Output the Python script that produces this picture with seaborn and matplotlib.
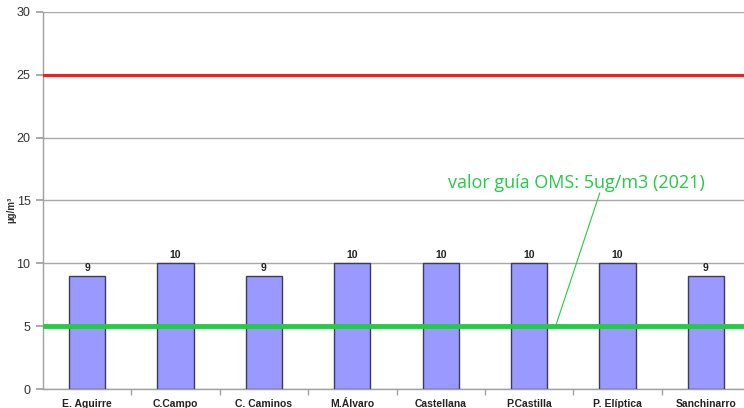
import matplotlib
matplotlib.use("Agg")
import matplotlib.pyplot as plt
import seaborn as sns
import pandas as pd

estaciones = ["E. Aguirre", "C.Campo", "C. Caminos", "M.Álvaro", "Castellana",
              "P.Castilla", "P. Elíptica", "Sanchinarro"]
valores = [9, 10, 9, 10, 10, 10, 10, 9]
limite_legal = 25
guia_oms = 5
texto_oms = "valor guía OMS: 5ug/m3 (2021)"

sns.set_theme(style="white")
plt.rcParams["font.family"] = ["Liberation Sans", "DejaVu Sans"]

df = pd.DataFrame({"estacion": estaciones, "valor": valores})

fig = plt.figure(figsize=(7.44, 4.08), dpi=100)
ax = fig.add_axes([43 / 744, 19 / 408, 707 / 744, 377 / 408])

sns.barplot(data=df, x="estacion", y="valor", ax=ax, color="#9999ff",
            saturation=1, width=0.41, edgecolor="#3c3c5a", linewidth=1.0, zorder=3)

ax.set_ylim(0, 30)
ax.set_xlim(-0.5, len(estaciones) - 0.5)
ax.set_yticks(range(0, 31, 5))
ax.yaxis.grid(True, color="#a8a8a8", linewidth=1.0, zorder=0)
ax.set_axisbelow(True)

for s in ["top", "right"]:
    ax.spines[s].set_visible(False)
for s in ["left", "bottom"]:
    ax.spines[s].set_color("#a0a0a0")
    ax.spines[s].set_linewidth(1.0)

ax.tick_params(axis="y", which="both", left=True, length=5, color="#a0a0a0",
               labelsize=9, labelcolor="#333333", pad=4)
ax.tick_params(axis="x", bottom=False, labelsize=7.5, pad=1.5)
for lab in ax.get_xticklabels():
    lab.set_fontweight("bold")
    lab.set_color("#222222")

# minor ticks between stations
ax.set_xticks([i + 0.5 for i in range(len(estaciones) - 1)], minor=True)
ax.tick_params(axis="x", which="minor", bottom=True, length=4, color="#a0a0a0")

ax.set_xlabel("")
ax.set_ylabel("µg/m³", fontsize=7, fontweight="bold", color="#333333")
ax.yaxis.set_label_coords(-0.038, 0.475)

for i, v in enumerate(valores):
    ax.text(i, v + 0.25, f"{v}", ha="center", va="bottom", fontsize=7.5,
            fontweight="bold", color="#222222", zorder=4)

ax.axhline(limite_legal, color="#ff1a1a", linewidth=2.2, zorder=4)
ax.axhline(guia_oms, color="#22cc44", linewidth=3.5, zorder=4)

# WHO guideline label with a leader line down to the green line
ax.text(5.53, 16.4, texto_oms, ha="center", va="center", fontsize=13,
        color="#22cc44", family=["Open Sans", "DejaVu Sans"], zorder=5)
ax.annotate("", xy=(5.30, guia_oms), xytext=(5.80, 15.6),
            arrowprops=dict(arrowstyle="-", color="#22cc44", linewidth=0.8,
                            shrinkA=0, shrinkB=0),
            zorder=5)

fig.savefig("out.png", dpi=100, facecolor="white")
